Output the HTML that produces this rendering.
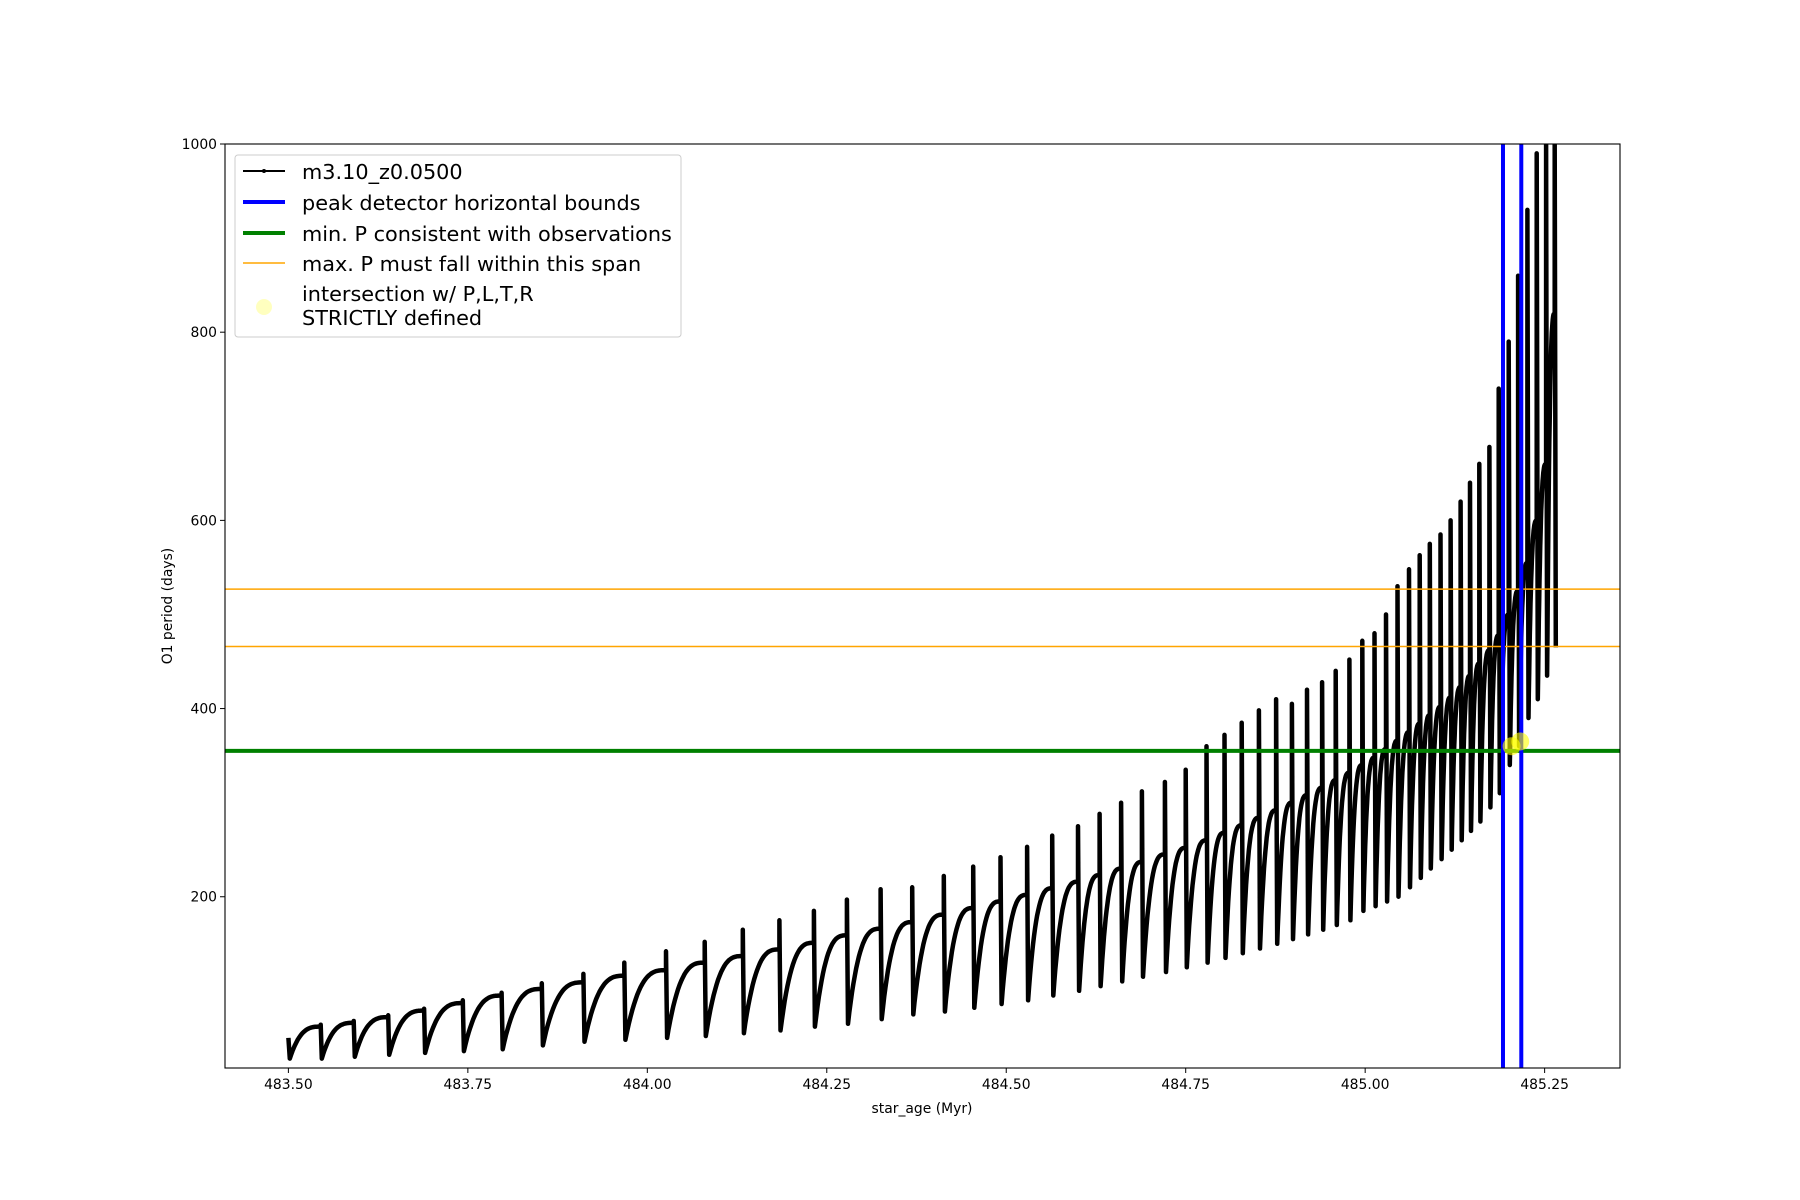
<!DOCTYPE html>
<html><head><meta charset="utf-8"><style>
html,body{margin:0;padding:0;background:#fff;}
svg{display:block;font-family:"DejaVu Sans","Liberation Sans",sans-serif;}
</style></head><body>
<svg id="chart" width="1800" height="1200" viewBox="0 0 1800 1200" xmlns="http://www.w3.org/2000/svg">
<defs><clipPath id="clip"><rect x="225" y="144" width="1395" height="924"/></clipPath></defs>
<rect width="1800" height="1200" fill="#fff"/>
<g id="plot" clip-path="url(#clip)"></g>
<g id="axes"></g>
<rect x="225" y="144" width="1395" height="924" fill="none" stroke="#000" stroke-width="1.1"/>
<text x="922" y="1113" font-size="13.9" text-anchor="middle">star_age (Myr)</text>
<text x="172" y="606" font-size="13.9" text-anchor="middle" transform="rotate(-90 172 606)">O1 period (days)</text>
<g>
<rect x="235" y="155" width="446" height="182" rx="3" fill="#fff" fill-opacity="0.85" stroke="#ccc" stroke-width="1"/>
<g><line x1="243" y1="171" x2="285" y2="171" stroke="#000" stroke-width="2"/><circle cx="264" cy="171" r="2" fill="#000"/><text x="302" y="179" font-size="20.8">m3.10_z0.0500</text></g>
<g><line x1="243" y1="202" x2="285" y2="202" stroke="#00f" stroke-width="4"/><text x="302" y="210" font-size="20.8">peak detector horizontal bounds</text></g>
<g><line x1="243" y1="233" x2="285" y2="233" stroke="#008000" stroke-width="4"/><text x="302" y="241" font-size="20.8">min. P consistent with observations</text></g>
<g><line x1="243" y1="263" x2="285" y2="263" stroke="orange" stroke-width="1.5"/><text x="302" y="271" font-size="20.8">max. P must fall within this span</text></g>
<g><circle cx="264" cy="307" r="8" fill="yellow" fill-opacity="0.25"/><text x="302" y="301" font-size="20.8">intersection w/ P,L,T,R</text><text x="302" y="325" font-size="20.8">STRICTLY defined</text></g>
</g>
</svg>
<script>
const pulseAge=[483.545,483.591,483.639,483.689,483.743,483.797,483.853,483.911,483.968,484.026,484.080,484.133,484.184,484.232,484.278,484.325,484.369,484.413,484.454,484.492,484.529,484.564,484.600,484.630,484.660,484.689,484.721,484.750,484.779,484.804,484.828,484.852,484.876,484.898,484.919,484.940,484.959,484.978,484.996,485.013,485.029,485.045,485.061,485.076,485.090,485.105,485.119,485.133,485.146,485.159,485.173,485.186,485.200,485.213,485.226,485.239,485.252,485.264];
const envP=[62,66,72,79,87,95,102,109,116,122,130,137,144,151,159,166,173,181,188,195,202,209,216,223,230,237,245,252,260,268,276,284,292,300,308,316,324,332,340,348,357,366,375,384,393,402,412,423,435,448,462,478,500,525,555,600,660,820];
const spikeP=[64,68,74,81,90,98,108,118,130,142,152,165,175,185,197,208,210,222,232,242,253,265,275,288,300,312,322,335,360,372,385,398,410,405,420,428,440,452,472,480,500,530,548,563,575,585,600,620,640,660,678,740,790,860,930,990,1000,1000];
const minP=[28,30,32,34,36,38,42,46,48,50,52,55,58,62,65,70,75,78,82,86,90,95,100,105,110,115,120,125,130,135,140,145,150,155,160,165,170,175,185,190,195,200,210,220,230,240,250,260,270,280,295,310,340,360,390,410,435,465];
const startAge=483.50, startP=50, startMin=28;
const xTicks=[483.50,483.75,484.00,484.25,484.50,484.75,485.00,485.25];
const yTicks=[200,400,600,800,1000];
const peakBounds=[485.192,485.2175];
const minObsP=[355];
const maxPSpan=[466,527];
const interAge=[485.204,485.216];
const interP=[360,365];

const X0=225,X1=1620,Y0=144,Y1=1068;
const xmin=483.4117,xmax=485.355,ymin=18,ymax=1000;
const sx=a=>X0+(a-xmin)/(xmax-xmin)*(X1-X0);
const sy=v=>Y1-(v-ymin)/(ymax-ymin)*(Y1-Y0);
const NS='http://www.w3.org/2000/svg';
const plot=document.getElementById('plot'), axes=document.getElementById('axes');
function mk(tag,attrs,parent){const e=document.createElementNS(NS,tag);for(const k in attrs)e.setAttribute(k,attrs[k]);parent.appendChild(e);return e;}

let d='M'+sx(startAge).toFixed(1)+','+sy(startP).toFixed(1);
let prevAge=startAge, prevMin=startMin;
d+='L'+sx(startAge+0.002).toFixed(1)+','+sy(prevMin).toFixed(1);
prevAge=startAge+0.002;
for(let i=0;i<pulseAge.length;i++){
  const a0=prevAge,a1=pulseAge[i];
  const N=24;
  for(let k=1;k<=N;k++){
    const f=k/N;
    const v=prevMin+(envP[i]-prevMin)*(1-Math.pow(1-f,3));
    d+='L'+sx(a0+(a1-a0)*f).toFixed(1)+','+sy(v).toFixed(1);
  }
  d+='L'+sx(a1).toFixed(1)+','+sy(spikeP[i]).toFixed(1);
  const am=a1+0.0015;
  d+='L'+sx(am).toFixed(1)+','+sy(minP[i]).toFixed(1);
  prevAge=am; prevMin=minP[i];
}
const series=mk('path',{d:d,fill:'none',stroke:'#000','stroke-width':4.5,'stroke-linejoin':'round'},plot);



maxPSpan.forEach(v=>{const l=mk('line',{x1:X0,x2:X1,y1:sy(v),y2:sy(v),stroke:'orange','stroke-width':1.5},plot);

});
minObsP.forEach(v=>{const l=mk('line',{x1:X0,x2:X1,y1:sy(v),y2:sy(v),stroke:'#008000','stroke-width':4},plot);

});
peakBounds.forEach(a=>{const l=mk('line',{x1:sx(a),x2:sx(a),y1:Y0,y2:Y1,stroke:'#00f','stroke-width':4},plot);

});
interAge.forEach((a,i)=>{const c=mk('circle',{cx:sx(a),cy:sy(interP[i]),r:9,fill:'yellow','fill-opacity':0.6},plot);

});

xTicks.forEach(t=>{const x=sx(t);
 mk('line',{x1:x,x2:x,y1:Y1,y2:Y1+5,stroke:'#000','stroke-width':1},axes);
 const tx=mk('text',{x:x,y:Y1+21,'font-size':13.9,'text-anchor':'middle'},axes);tx.textContent=t.toFixed(2);
 
 });
yTicks.forEach(t=>{const y=sy(t);
 mk('line',{x1:X0-5,x2:X0,y1:y,y2:y,stroke:'#000','stroke-width':1},axes);
 const tx=mk('text',{x:X0-8,y:y+5,'font-size':13.9,'text-anchor':'end'},axes);tx.textContent=t;
 
 });
</script>
</body></html>
